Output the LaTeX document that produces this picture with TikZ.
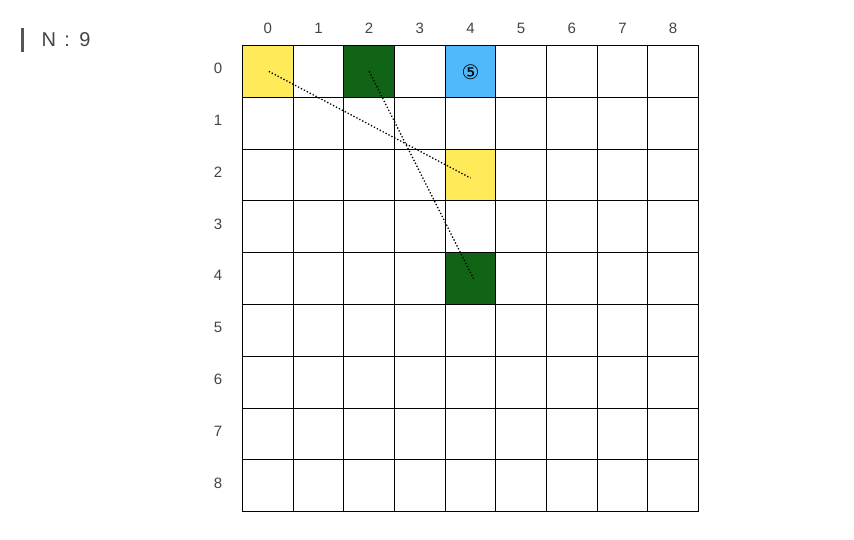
\documentclass[tikz,border=0pt]{standalone}
\usepackage{fontspec}
\setmainfont{Liberation Sans}
\newfontfamily\symfont{DejaVu Sans}
\definecolor{cyel}{HTML}{FFEB5A}
\definecolor{cgreen}{HTML}{116416}
\definecolor{cblue}{HTML}{4FB9FC}
\definecolor{labgray}{HTML}{444444}
\definecolor{bargray}{HTML}{555555}
\begin{document}
\begin{tikzpicture}[x=1pt,y=-1pt,
  cell/.style={draw=black, line width=1pt, inner sep=0pt, outer sep=0pt,
    minimum width=50.67pt, minimum height=51.8pt, anchor=north west},
  hl0-0/.style={fill=cyel}, hl0-2/.style={fill=cgreen}, hl0-4/.style={fill=cblue},
  hl2-4/.style={fill=cyel}, hl4-4/.style={fill=cgreen},
  lab/.style={text=labgray, font=\fontsize{15}{17}\selectfont, inner sep=0pt},
  path/.style={line width=1.3pt, dash pattern=on 1.3pt off 2pt, black}]
\useasboundingbox (0,0) rectangle (854,539);
\foreach \r in {0,...,8} {
  \foreach \c in {0,...,8} {
    \node[cell, hl\r-\c/.try] (c\r-\c) at ({242.5+\c*50.67},{45.5+\r*51.8}) {};
  }
}
\foreach \c in {0,...,8} {
  \node[lab] (col\c) at ({267.8+\c*50.67},28.5) {\c};
}
\foreach \r in {0,...,8} {
  \node[lab] (row\r) at (218,{68.5+\r*51.8}) {\r};
}
\node[inner sep=0pt, font=\fontsize{20}{22}\selectfont\symfont] (five) at ([yshift=-1pt]c0-4.center) {⑤};
\draw[path] ([xshift=1pt]c0-0.center) -- ([yshift=-3pt]c2-4.center);
\draw[path] (c0-2.center) -- ([xshift=3pt]c4-4.center);
\node[fill=bargray, minimum width=3pt, minimum height=24pt, inner sep=0pt] (bar) at (22.3,40) {};
\node[anchor=base west, inner sep=0pt, text=labgray, font=\fontsize{20}{22}\selectfont] (title) at (41.4,46.7) {N\hspace{8.4pt}:\hspace{9.3pt}9};
\end{tikzpicture}
\end{document}
